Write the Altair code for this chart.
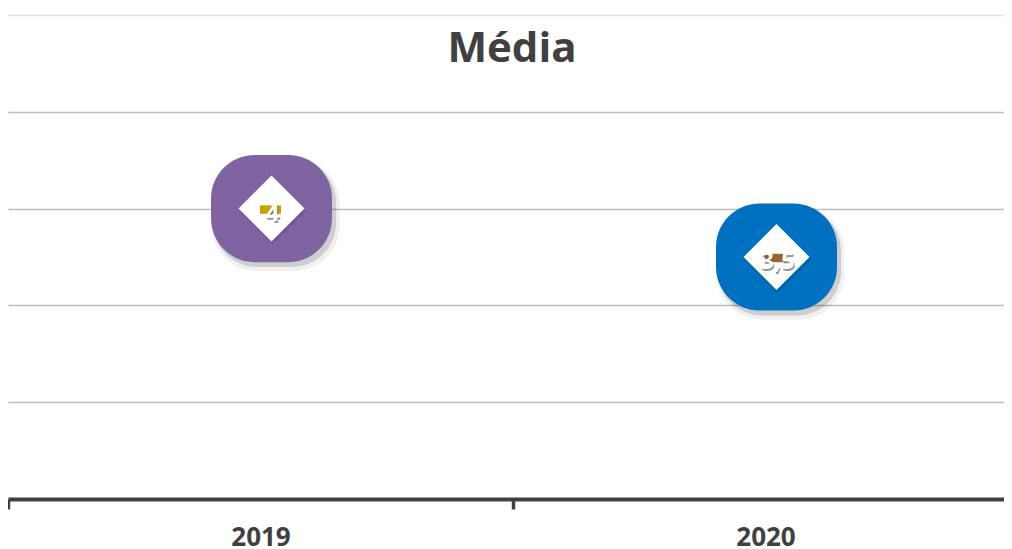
import altair as alt
import pandas as pd

# ---- data ----
years = ["2019", "2020"]
values = [4.0, 3.5]
value_labels = ["4", "3,5"]
y_ticks = [1, 2, 3, 4, 5, 6]
title_text = "Média"

# ---- styles ----
marker_colors = ["#8064A2", "#0070C0"]
label_box_colors = ["#C9A100", "#9C6530"]
FONT = "Open Sans"
ROUNDED = ("M -0.28 -0.885 L 0.28 -0.885 C 0.677 -0.885 1 -0.562 1 -0.165 "
           "L 1 0.165 C 1 0.562 0.677 0.885 0.28 0.885 L -0.28 0.885 "
           "C -0.677 0.885 -1 0.562 -1 0.165 L -1 -0.165 "
           "C -1 -0.562 -0.677 -0.885 -0.28 -0.885 Z")
RECT = "M -1 -0.4 L 1 -0.4 L 1 0.4 L -1 0.4 Z"

df = pd.DataFrame({"ano": years, "media": values, "rotulo": value_labels})

x = alt.X(
    "ano:N",
    sort=years,
    scale=alt.Scale(type="band", domain=years, range=[0, 1010],
                    paddingInner=0, paddingOuter=0),
    axis=alt.Axis(
        title=None, labelAngle=0, labelFont=FONT, labelFontSize=26,
        labelFontWeight="bold", labelColor="#404040", labelPadding=15,
        domainColor="#404040", domainWidth=4, tickColor="#404040",
        tickWidth=3.5, tickSize=10, tickBand="extent", grid=False,
    ),
)
y = alt.Y(
    "media:Q",
    scale=alt.Scale(domain=[1, 6], nice=False, zero=False),
    axis=alt.Axis(values=y_ticks, labels=False, ticks=False, domain=False,
                  grid=True,
                  gridColor=alt.condition("datum.value >= 6",
                                          alt.value("#E2E2E2"),
                                          alt.value("#BDBDBD")),
                  gridWidth=1.6, title=None),
)

base = alt.Chart(df).encode(x=x, y=y)

shadow2 = base.mark_point(shape=ROUNDED, filled=True, size=128 ** 2,
                          color="#000000", opacity=0.06, xOffset=15, yOffset=6)
shadow1 = base.mark_point(shape=ROUNDED, filled=True, size=123 ** 2,
                          color="#000000", opacity=0.14, xOffset=14, yOffset=4)
marker = base.mark_point(shape=ROUNDED, filled=True, size=121 ** 2,
                         opacity=1, xOffset=11).encode(
    color=alt.Color("ano:N", scale=alt.Scale(domain=years, range=marker_colors),
                    legend=None)
)
diamond_shadow = base.mark_point(shape="diamond", filled=True, size=68 ** 2,
                                 color="#000000", opacity=0.12, xOffset=12, yOffset=2)
diamond = base.mark_point(shape="diamond", filled=True, color="white",
                          size=66 ** 2, opacity=1, xOffset=11)
box = base.mark_point(shape=RECT, filled=True, size=21 ** 2, opacity=1,
                      xOffset=10, yOffset=1).encode(
    fill=alt.Fill("ano:N", scale=alt.Scale(domain=years, range=label_box_colors),
                  legend=None)
)
txt_shadow = base.mark_text(font=FONT, fontSize=24, fontWeight="bold",
                            color="#555555", opacity=0.6, dx=13, dy=7,
                            baseline="middle").encode(text="rotulo:N")
txt = base.mark_text(font=FONT, fontSize=24, fontWeight="bold", color="white",
                     dx=12, dy=5, baseline="middle").encode(text="rotulo:N")

title = alt.Chart(pd.DataFrame({"t": [title_text]})).mark_text(
    font=FONT, fontSize=42, fontWeight="bold", color="#404040",
    align="center", baseline="middle",
).encode(x=alt.value(504), y=alt.value(34), text="t:N")

chart = alt.layer(
    shadow2, shadow1, marker, diamond_shadow, diamond, box, txt_shadow, txt, title
).properties(
    width=996, height=484,
    background="white",
    autosize=alt.AutoSizeParams(type="none"),
    padding={"left": 0, "top": 7, "right": 0, "bottom": 50},
).configure_view(stroke="transparent", strokeWidth=0)

chart.save("out.html", embed_options={"renderer": "svg", "actions": False})
